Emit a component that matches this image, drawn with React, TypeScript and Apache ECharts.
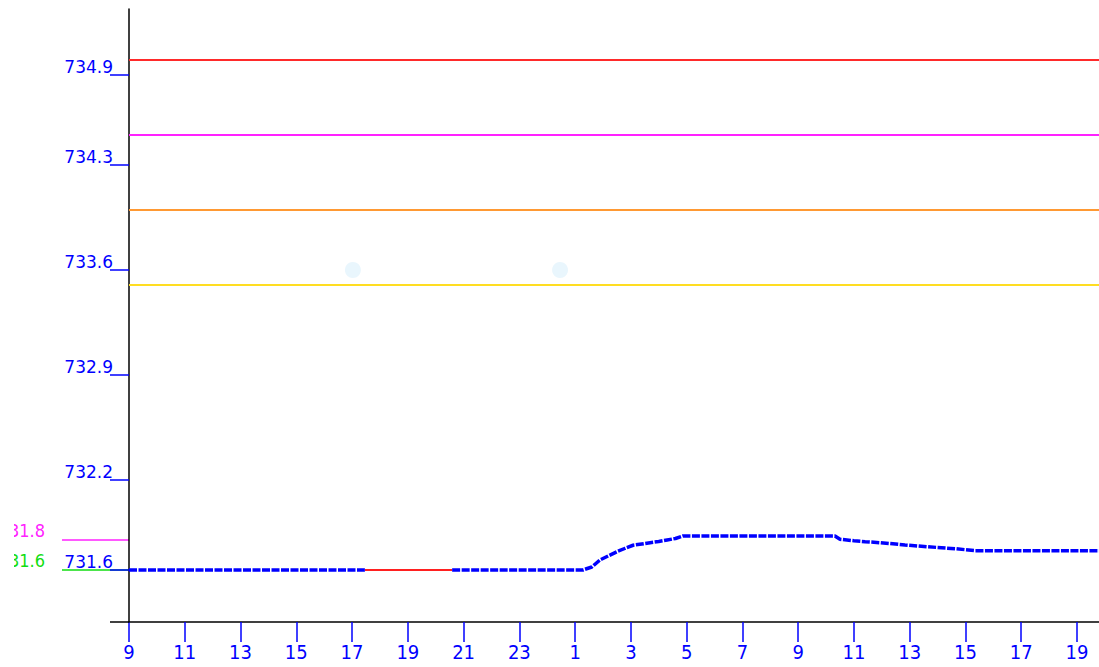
import React, { useEffect, useRef } from "react";
import * as echarts from "echarts";

// ---- data (hours since 09:00 of day 1, water level) ----
const blueHours1 = [0, 8.46];
const blueLevels1 = [731.6, 731.6];
const redHours = [8.46, 11.59];
const redLevels = [731.6, 731.6];
const blueHours2 = [11.59, 16.28, 16.6, 16.89, 17.2, 17.5, 17.8, 18.08, 18.69, 19.0, 19.3, 19.6, 19.87, 25.32, 25.5, 26.0, 26.4, 26.94, 27.83, 28.62, 29.63, 30.34, 34.8];
const blueLevels2 = [731.6, 731.6, 731.62, 731.667, 731.695, 731.722, 731.745, 731.765, 731.782, 731.79, 731.8, 731.81, 731.827, 731.827, 731.805, 731.795, 731.789, 731.782, 731.767, 731.755, 731.742, 731.729, 731.729];
const dotHours = [8.03, 15.46];
const dotLevels = [733.6, 733.6];

const levelValues = [735.0, 734.5, 734.0, 733.5];
const levelColors = ["#ff2a2a", "#ff22ff", "#ff9933", "#ffdd22"];

const yTickValues = [731.6, 732.2, 732.9, 733.6, 734.3, 734.9];
const xTickHours = [0, 2, 4, 6, 8, 10, 12, 14, 16, 18, 20, 22, 24, 26, 28, 30, 32, 34];
const xTickLabels = ["9", "11", "13", "15", "17", "19", "21", "23", "1", "3", "5", "7", "9", "11", "13", "15", "17", "19"];

const markerValues = [731.8, 731.6];
const markerColors = ["#ff22ff", "#11dd11"];

const Y_MIN = 731.2533;
const Y_MAX = 735.34;
const X_MIN = 0;
const X_MAX = 34.79;

const zip = (a: number[], b: number[]) => a.map((v, i) => [v, b[i]]);

const BLUE = "#0000ff";
const yFont = "DejaVu Sans";
const xFont = "'Liberation Sans Narrow', 'DejaVu Sans Condensed', 'Liberation Sans', sans-serif";

export default function App() {
  const ref = useRef<HTMLDivElement>(null);
  useEffect(() => {
    if (!ref.current) return;
    const chart = echarts.init(ref.current, undefined, { renderer: "svg" });

    const markerAxes = markerValues.map((v, i) => ({
      type: "value",
      position: "left",
      min: Y_MIN,
      max: Y_MAX,
      z: 2,
      axisLine: { show: false },
      splitLine: { show: false },
      axisTick: {
        show: true,
        customValues: [v],
        length: 67,
        lineStyle: { color: markerColors[i], width: 1.5 },
      },
      axisLabel: {
        show: true,
        customValues: [v],
        margin: 84,
        color: markerColors[i],
        fontFamily: xFont,
        fontSize: 18,
        verticalAlign: "bottom",
        lineHeight: 18,
        formatter: (val: number) => val.toFixed(1),
      },
    }));

    const option: any = {
      animation: false,
      grid: { left: 129, right: 0, top: 9, bottom: 45, containLabel: false, outerBoundsMode: "none" },
      xAxis: {
        type: "value",
        min: X_MIN,
        max: X_MAX,
        axisLine: { show: true, lineStyle: { color: "#000", width: 1.5 } },
        splitLine: { show: false },
        axisTick: {
          show: true,
          customValues: xTickHours,
          length: 20,
          lineStyle: { color: BLUE, width: 1.5 },
        },
        axisLabel: {
          customValues: xTickHours,
          margin: 20,
          color: BLUE,
          fontFamily: xFont,
          fontSize: 20,
          formatter: (val: number) => {
            const i = xTickHours.indexOf(Math.round(val));
            return i >= 0 ? xTickLabels[i] : "";
          },
        },
      },
      yAxis: [
        {
          type: "value",
          position: "left",
          min: Y_MIN,
          max: Y_MAX,
          z: 3,
          axisLine: { show: true, lineStyle: { color: "#000", width: 1.5 } },
          splitLine: { show: false },
          axisTick: {
            show: true,
            customValues: yTickValues,
            length: 19,
            lineStyle: { color: BLUE, width: 1.5 },
          },
          axisLabel: {
            customValues: yTickValues,
            margin: 16,
            color: BLUE,
            fontFamily: yFont,
            fontSize: 17,
            verticalAlign: "bottom",
            lineHeight: 16,
            formatter: (val: number) => val.toFixed(1),
          },
        },
        ...markerAxes,
        {
          type: "value",
          position: "left",
          min: Y_MIN,
          max: Y_MAX,
          z: 3,
          axisLine: { show: false },
          splitLine: { show: false },
          axisTick: {
            show: true,
            customValues: [Y_MIN],
            length: 19,
            lineStyle: { color: "#000", width: 1.5 },
          },
          axisLabel: { show: false },
        },
      ],
      series: [
        {
          type: "line",
          yAxisIndex: 0,
          data: [],
          silent: true,
          markLine: {
            silent: true,
            symbol: "none",
            label: { show: false },
            data: levelValues.map((v, i) => ({
              yAxis: v,
              lineStyle: { color: levelColors[i], width: 2, type: "solid" },
            })),
          },
        },
        {
          type: "scatter",
          data: zip(dotHours, dotLevels),
          symbol: "circle",
          symbolSize: 16,
          itemStyle: { color: "#e3f4fd" },
          z: 1,
        },
        {
          type: "line",
          data: zip(redHours, redLevels),
          showSymbol: false,
          lineStyle: { color: "#ff2020", width: 2 },
          z: 3,
        },
        {
          type: "line",
          data: zip(blueHours1, blueLevels1),
          showSymbol: false,
          lineStyle: { color: BLUE, width: 3.5, type: [8, 1.5] },
          z: 4,
        },
        {
          type: "line",
          data: zip(blueHours2, blueLevels2),
          showSymbol: false,
          lineStyle: { color: BLUE, width: 3.5, type: [8, 1.5] },
          z: 4,
        },
      ],
      graphic: [
        {
          type: "rect",
          shape: { x: 0, y: 515, width: 14, height: 60 },
          style: { fill: "#fff" },
          z: 100,
          silent: true,
        },
      ],
    };
    chart.setOption(option);
    return () => chart.dispose();
  }, []);

  return (
    <div
      ref={ref}
      style={{ position: "fixed", left: 0, top: 0, width: 1099, height: 667, background: "#fff" }}
    />
  );
}
